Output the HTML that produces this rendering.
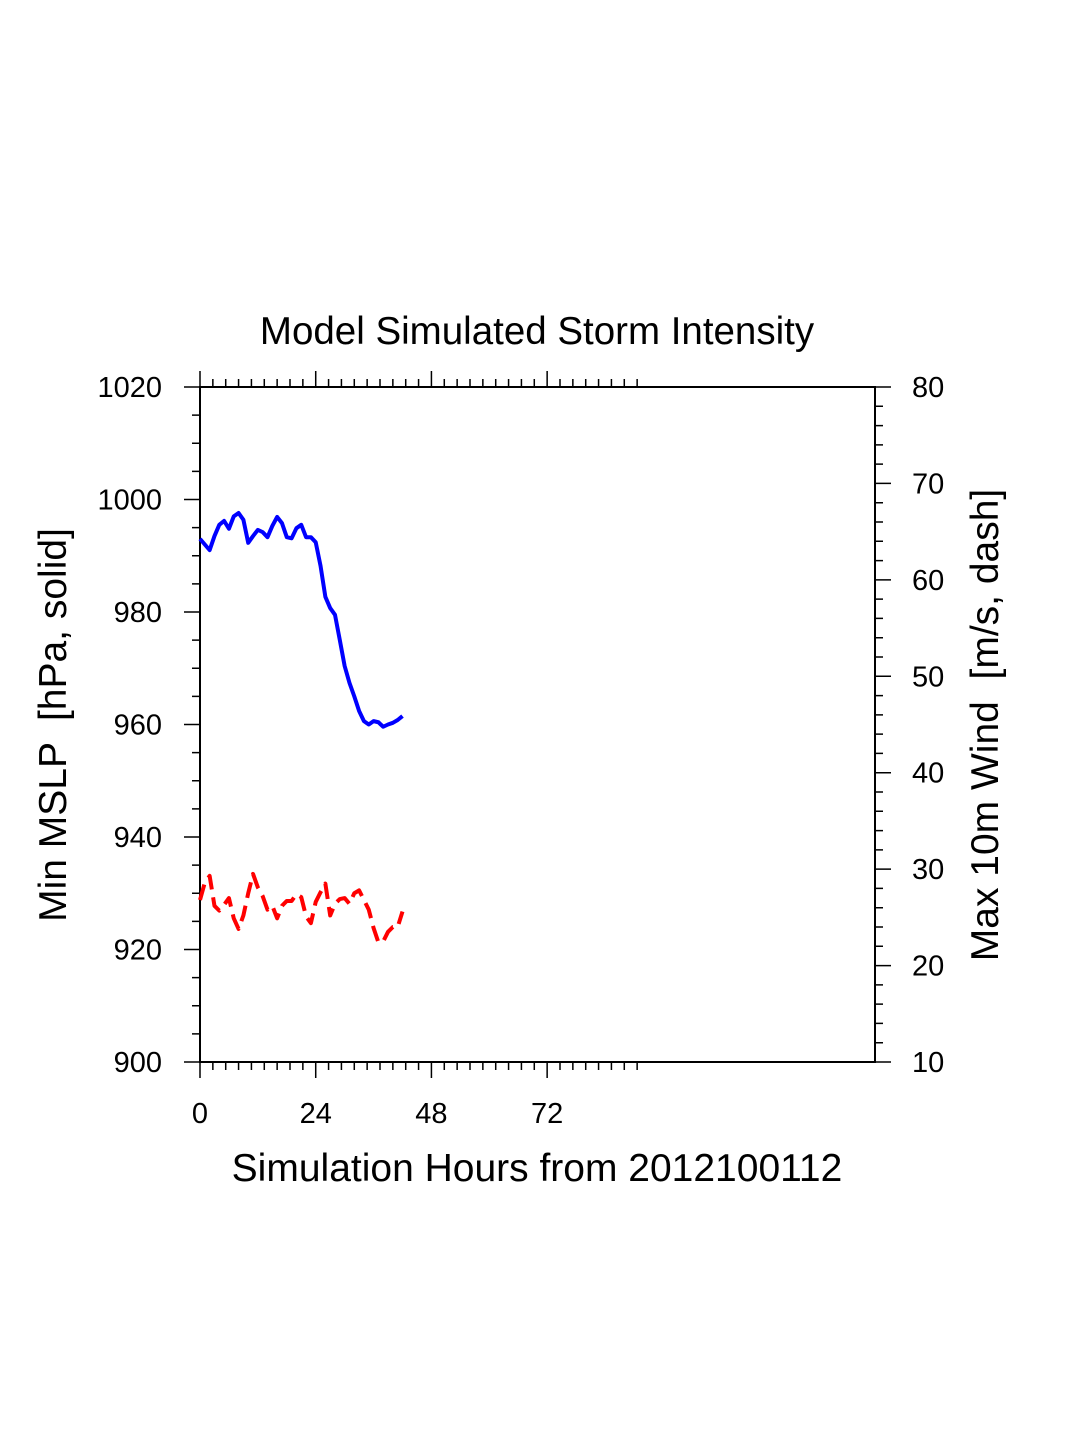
<!DOCTYPE html>
<html><head><meta charset="utf-8"><style>
body{margin:0;background:#fff}
svg text{font-family:"Liberation Sans",Arial,sans-serif;fill:#000;white-space:pre}
</style></head><body>
<svg id="chart" width="1075" height="1450" viewBox="0 0 1075 1450">
<text x="537" y="344" font-size="38.5" text-anchor="middle">Model Simulated Storm Intensity</text>
<g id="axes"></g>
<g id="series"></g>
<text x="537" y="1181" font-size="39" text-anchor="middle">Simulation Hours from 2012100112</text>
<text transform="translate(66,725) rotate(-90)" font-size="39" text-anchor="middle">Min MSLP  [hPa, solid]</text>
<text transform="translate(998,725) rotate(-90)" font-size="39" text-anchor="middle">Max 10m Wind  [m/s, dash]</text>
</svg>
<script>
const hours=[0,1,2,3,4,5,6,7,8,9,10,11,12,13,14,15,16,17,18,19,20,21,22,23,24,25,26,27,28,29,30,31,32,33,34,35,36,37,38,39,40,41,42];
const mslp=[993,992,991,993.5,995.5,996.2,994.8,997,997.6,996.4,992.3,993.5,994.6,994.2,993.3,995.3,996.9,995.8,993.3,993.1,994.9,995.5,993.3,993.3,992.4,988.2,982.7,980.7,979.5,975,970.4,967.4,965,962.4,960.6,960,960.6,960.4,959.6,960,960.3,960.8,961.5];
const wind=[26.8,28.6,29.3,26.2,25.7,26.3,27,24.9,23.8,25.2,27.5,29.5,28.1,27.2,25.8,26.2,24.9,26.2,26.7,26.7,27.4,27.1,25.1,24.4,26.6,27.6,28.5,25.2,26.4,26.9,27,26.4,27.5,27.8,26.8,25.8,23.9,22.4,22.5,23.5,24,24,25.6];
const xTicks=[0,24,48,72];
const leftTicks=[900,920,940,960,980,1000,1020];
const rightTicks=[10,20,30,40,50,60,70,80];
const X0=200,X1=875,Y0=387,Y1=1062,XMAX=140;
const xs=h=>X0+h/XMAX*(X1-X0);
const yl=p=>Y1-(p-900)/120*(Y1-Y0);
const yr=w=>Y1-(w-10)/70*(Y1-Y0);
const NS="http://www.w3.org/2000/svg";
const axes=document.getElementById('axes'),ser=document.getElementById('series');
function mk(tag,at,par){const e=document.createElementNS(NS,tag);for(const k in at)e.setAttribute(k,at[k]);par.appendChild(e);return e;}
const fr=mk('rect',{x:X0,y:Y0,width:X1-X0,height:Y1-Y0,fill:'none',stroke:'#000','stroke-width':2},axes);


let d='';
for(let i=0;i<=34;i++){const h=i*24/9;const x=xs(h);const L=(i%9===0)?16:8;d+=`M${x},${Y1}v${L}M${x},${Y0}v${-L}`;}
for(let p=900;p<=1020;p+=5){const y=yl(p);const L=(p%20===0)?16:8;d+=`M${X0},${y}h${-L}`;}
for(let w=10;w<=80;w+=2){const y=yr(w);const L=(w%10===0)?16:8;d+=`M${X1},${y}h${L}`;}
const tk=mk('path',{d:d,stroke:'#000','stroke-width':1.5,fill:'none'},axes);


xTicks.forEach(v=>{const t=mk('text',{x:xs(v),y:1123,'font-size':29,'text-anchor':'middle'},axes);t.textContent=v;

});
leftTicks.forEach(v=>{const t=mk('text',{x:162,y:yl(v)+10,'font-size':29,'text-anchor':'end'},axes);t.textContent=v;

});
rightTicks.forEach(v=>{const t=mk('text',{x:912,y:yr(v)+10,'font-size':29,'text-anchor':'start'},axes);t.textContent=v;

});
const pb=mk('polyline',{points:hours.map((h,i)=>xs(h)+','+yl(mslp[i])).join(' '),fill:'none',stroke:'#0000ff','stroke-width':4,'stroke-linejoin':'round'},ser);


const pr=mk('polyline',{points:hours.map((h,i)=>xs(h)+','+yr(wind[i])).join(' '),fill:'none',stroke:'#ff0000','stroke-width':4,'stroke-dasharray':'16,8','stroke-linejoin':'round'},ser);


</script>
</body></html>
